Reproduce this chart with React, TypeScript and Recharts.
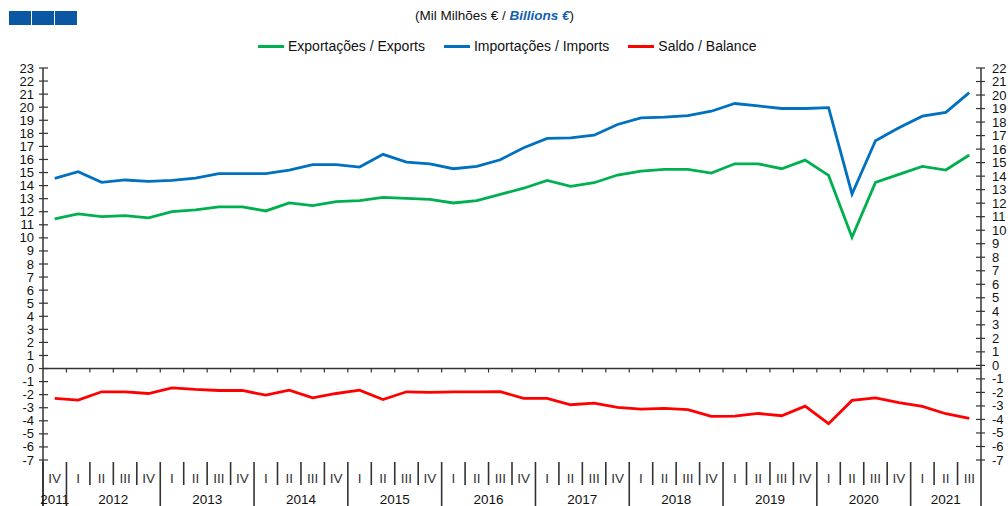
import { Legend, Line, LineChart, ReferenceLine, XAxis, YAxis } from "recharts";

const periods = [
  "2011 IV",
  "2012 I", "2012 II", "2012 III", "2012 IV",
  "2013 I", "2013 II", "2013 III", "2013 IV",
  "2014 I", "2014 II", "2014 III", "2014 IV",
  "2015 I", "2015 II", "2015 III", "2015 IV",
  "2016 I", "2016 II", "2016 III", "2016 IV",
  "2017 I", "2017 II", "2017 III", "2017 IV",
  "2018 I", "2018 II", "2018 III", "2018 IV",
  "2019 I", "2019 II", "2019 III", "2019 IV",
  "2020 I", "2020 II", "2020 III", "2020 IV",
  "2021 I", "2021 II", "2021 III",
];

const exportsValues = [
  11.45, 11.83, 11.63, 11.7, 11.53, 12.01, 12.14, 12.37, 12.37, 12.06,
  12.67, 12.47, 12.77, 12.85, 13.1, 13.03, 12.95, 12.67, 12.85, 13.33,
  13.8, 14.4, 13.94, 14.22, 14.81, 15.11, 15.24, 15.24, 14.96, 15.67,
  15.67, 15.29, 15.95, 14.78, 10.05, 14.25, 14.86, 15.47, 15.19, 16.34,
];

const importsValues = [
  14.56, 15.06, 14.25, 14.43, 14.33, 14.4, 14.58, 14.91, 14.91, 14.91,
  15.19, 15.6, 15.6, 15.42, 16.39, 15.8, 15.67, 15.29, 15.47, 15.98,
  16.9, 17.61, 17.66, 17.86, 18.68, 19.18, 19.24, 19.36, 19.69, 20.28,
  20.1, 19.9, 19.9, 19.97, 13.36, 17.43, 18.42, 19.31, 19.6, 21.12,
];

const balanceValues = [
  -2.29, -2.42, -1.78, -1.78, -1.91, -1.48, -1.6, -1.68, -1.68, -2.04,
  -1.65, -2.24, -1.91, -1.65, -2.37, -1.78, -1.83, -1.78, -1.78, -1.77,
  -2.29, -2.29, -2.77, -2.65, -2.98, -3.1, -3.05, -3.15, -3.66, -3.64,
  -3.44, -3.61, -2.88, -4.22, -2.44, -2.24, -2.6, -2.9, -3.46, -3.82,
];

const leftTicks = Array.from({ length: 31 }, (_, i) => i - 7);
const rightTicks = Array.from({ length: 30 }, (_, i) => i - 7);

const series = [
  { key: "exp", name: "Exportações / Exports", color: "#00b050" },
  { key: "imp", name: "Importações / Imports", color: "#0070c0" },
  { key: "bal", name: "Saldo / Balance", color: "#ff0000" },
];

const data = periods.map((p, i) => ({
  period: p,
  exp: exportsValues[i],
  imp: importsValues[i],
  bal: balanceValues[i],
}));

const W = 1008;
const H = 506;
const LEFT_W = 43;
const RIGHT_W = 27;
const BW = (W - LEFT_W - RIGHT_W) / periods.length;
const FONT = "'Liberation Sans', Arial, sans-serif";
const AXIS = "#333";

const LeftTick = (props: any) => {
  const { x, y, payload } = props;
  return (
    <g>
      <line x1={x - 4} x2={x + 5} y1={y} y2={y} stroke={AXIS} strokeWidth={1.2} />
      <text x={x - 9} y={y} dy={4.5} textAnchor="end" fontSize={13} fill="#111" fontFamily={FONT}>
        {payload.value}
      </text>
    </g>
  );
};

const RightTick = (props: any) => {
  const { x, y, payload } = props;
  return (
    <g>
      <line x1={x - 5} x2={x + 4} y1={y} y2={y} stroke={AXIS} strokeWidth={1.2} />
      <text x={x + 11} y={y} dy={4.5} textAnchor="start" fontSize={13} fill="#111" fontFamily={FONT}>
        {payload.value}
      </text>
    </g>
  );
};

const PeriodTick = (props: any) => {
  const { x, y, payload, index } = props;
  const [year, q] = String(payload.value).split(" ");
  const left = x - BW / 2;
  const yearStart = index === 0 || q === "I";
  const last = index === periods.length - 1;
  let yearLabel = null;
  if (yearStart) {
    const n = periods.filter((p) => p.startsWith(year)).length;
    yearLabel = (
      <text x={x + ((n - 1) / 2) * BW} y={y + 44} textAnchor="middle" fontSize={13.5} fill="#111" fontFamily={FONT}>
        {year}
      </text>
    );
  }
  return (
    <g>
      <line x1={left} x2={left} y1={y + 2} y2={yearStart ? y + 46 : y + 25} stroke={AXIS} strokeWidth={1.6} />
      {last && <line x1={left + BW} x2={left + BW} y1={y} y2={y + 46} stroke={AXIS} strokeWidth={1.6} />}
      {index === 0 && <line x1={left} x2={left} y1={y} y2={y + 46} stroke={AXIS} strokeWidth={1.6} />}
      <text x={x} y={y + 23} textAnchor="middle" fontSize={13.5} fill="#333" fontFamily={FONT}>
        {q}
      </text>
      {yearLabel}
    </g>
  );
};

const ZeroLine = (props: any) => {
  const { x1, x2, y1 } = props;
  const step = (x2 - x1) / periods.length;
  return (
    <g>
      <line x1={x1} x2={x2} y1={y1} y2={y1} stroke={AXIS} strokeWidth={1.5} />
      {periods.slice(1).map((p, i) => (
        <line key={p} x1={x1 + (i + 1) * step} x2={x1 + (i + 1) * step} y1={y1} y2={y1 + 4} stroke={AXIS} strokeWidth={1.2} />
      ))}
    </g>
  );
};

const LegendContent = () => (
  <div style={{ display: "flex", justifyContent: "flex-start", paddingLeft: 258, height: 20, alignItems: "center", fontFamily: FONT, fontSize: 14, color: "#111" }}>
    {series.map((s) => (
      <div key={s.key} style={{ display: "flex", alignItems: "center", marginRight: 19 }}>
        <span style={{ display: "inline-block", width: 26, height: 3, background: s.color, marginRight: 4 }} />
        <span>{s.name}</span>
      </div>
    ))}
  </div>
);

export default function App() {
  return (
    <div style={{ position: "absolute", left: 0, top: 0, width: W, height: H, background: "#fff" }}>
      <div style={{ position: "absolute", left: 9, top: 11, display: "flex", gap: 1 }}>
        {[0, 1, 2].map((i) => (
          <div key={i} style={{ width: 22, height: 14, background: "#0a58a4" }} />
        ))}
      </div>
      <div style={{ position: "absolute", top: 8, left: 415, whiteSpace: "nowrap", fontFamily: FONT, fontSize: 13.5, color: "#111" }}>
        (Mil Milhões € / <span style={{ color: "#1460b0", fontWeight: "bold", fontStyle: "italic" }}>Billions €</span>)
      </div>
      <LineChart width={W} height={H} data={data} margin={{ top: 48, right: 0, bottom: 0, left: 0 }}>
        <Legend verticalAlign="top" content={<LegendContent />} wrapperStyle={{ top: 36, left: 0, width: W, height: 20 }} />
        <XAxis
          dataKey="period"
          scale="band"
          interval={0}
          height={46}
          axisLine={false}
          tickLine={false}
          tickSize={0}
          tickMargin={0}
          tick={<PeriodTick />}
        />
        <YAxis
          yAxisId="left"
          width={LEFT_W}
          type="number"
          domain={[-7, 23]}
          ticks={leftTicks}
          interval={0}
          tickLine={false}
          tickSize={0}
          tickMargin={0}
          axisLine={{ stroke: AXIS, strokeWidth: 1.5 }}
          tick={<LeftTick />}
        />
        <YAxis
          yAxisId="right"
          orientation="right"
          width={RIGHT_W}
          type="number"
          domain={[-7, 22]}
          allowDataOverflow
          ticks={rightTicks}
          interval={0}
          tickLine={false}
          tickSize={0}
          tickMargin={0}
          axisLine={{ stroke: AXIS, strokeWidth: 1.5 }}
          tick={<RightTick />}
        />
        <ReferenceLine yAxisId="left" y={0} shape={<ZeroLine />} />
        {series.map((s) => (
          <Line
            key={s.key}
            yAxisId="left"
            dataKey={s.key}
            name={s.name}
            stroke={s.color}
            strokeWidth={2.8}
            dot={false}
            activeDot={false}
            type="linear"
            isAnimationActive={false}
          />
        ))}
      </LineChart>
    </div>
  );
}
